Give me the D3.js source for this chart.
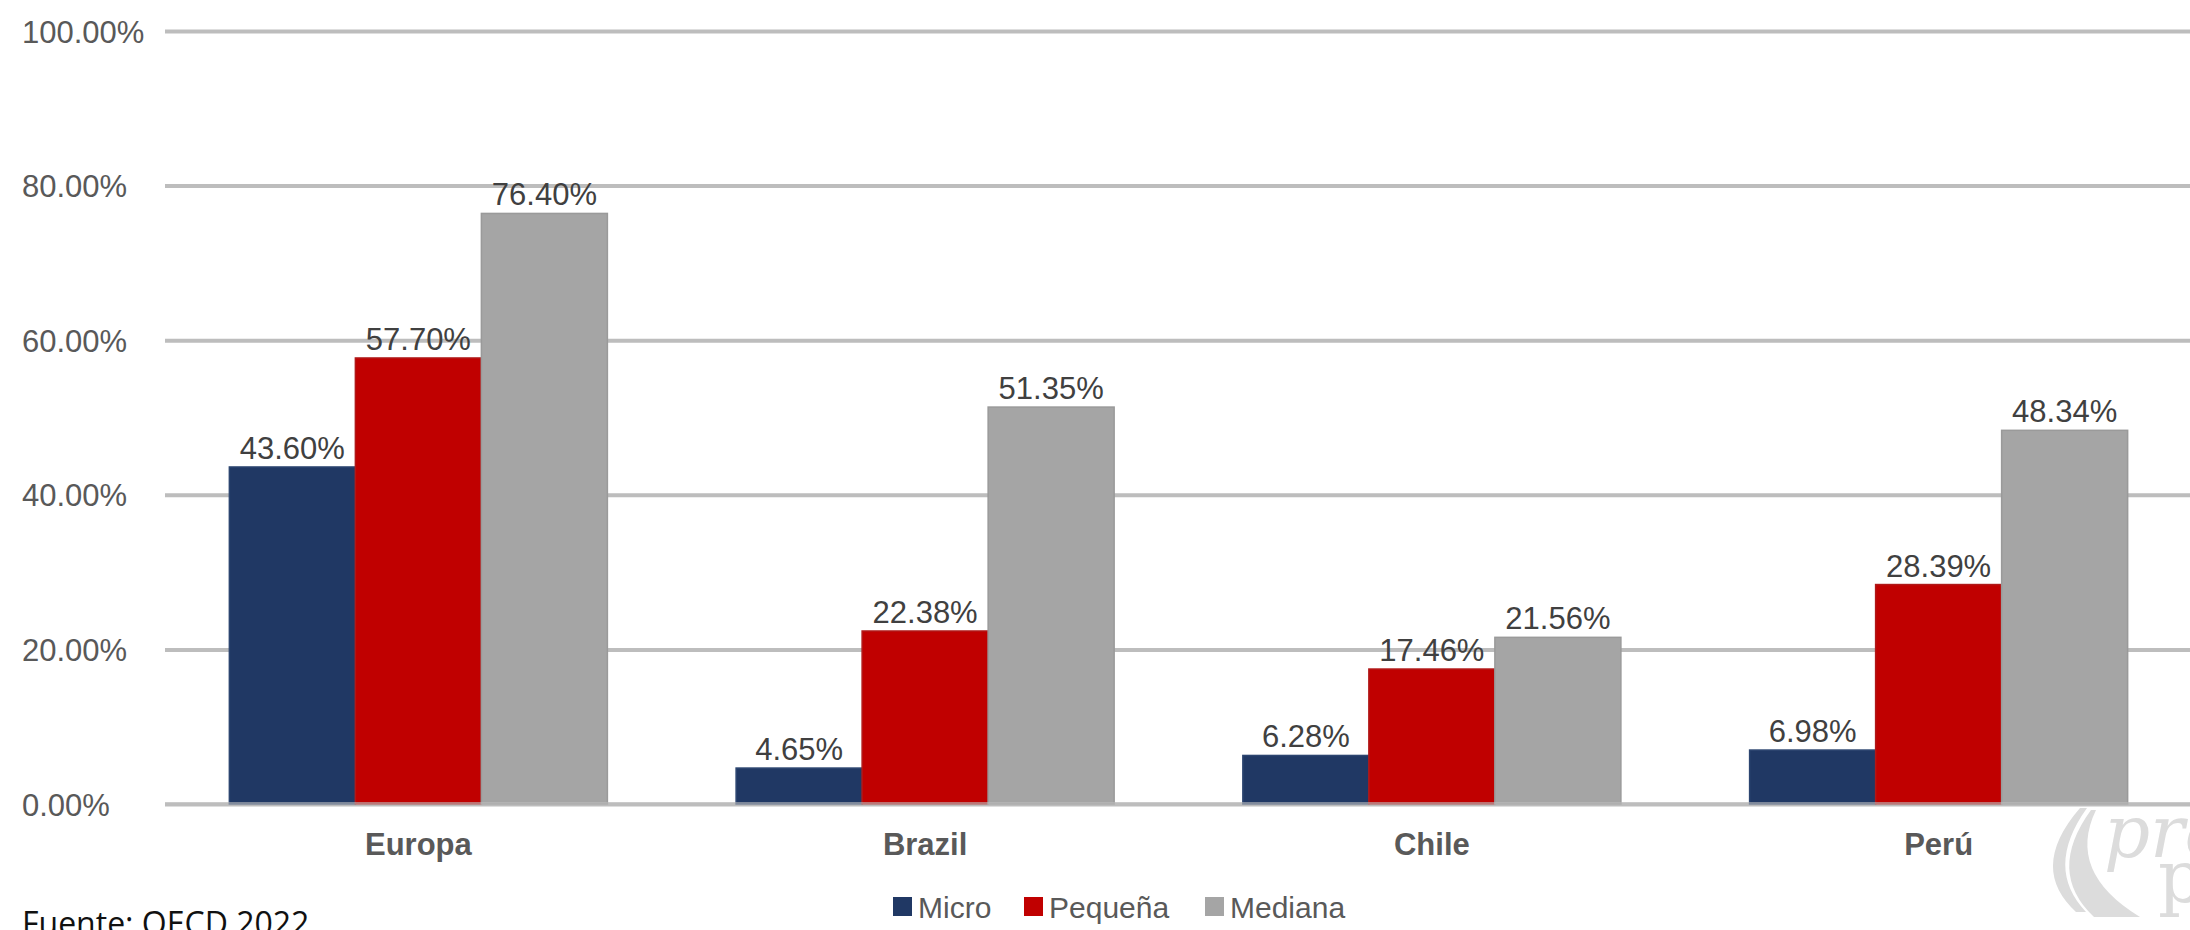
<!DOCTYPE html>
<html>
<head>
<meta charset="utf-8">
<script src="https://cdn.jsdelivr.net/npm/d3@7"></script>
<style>
  html, body { margin: 0; padding: 0; background: #ffffff; }
  svg { display: block; }
</style>
</head>
<body>
<svg id="chart" width="2190" height="930"></svg>
<script>
// ---- data ----
const categories = ["Europa", "Brazil", "Chile", "Perú"];
const seriesNames = ["Micro", "Pequeña", "Mediana"];
const microValues = [43.60, 4.65, 6.28, 6.98];
const pequenaValues = [57.70, 22.38, 17.46, 28.39];
const medianaValues = [76.40, 51.35, 21.56, 48.34];
const yTickValues = [0, 20, 40, 60, 80, 100];
const sourceText = "Fuente: OECD 2022";

// ---- styling ----
const colors = { "Micro": "#203864", "Pequeña": "#c00000", "Mediana": "#a5a5a5" };
const strokes = { "Micro": "#2c4570", "Pequeña": "#b01818", "Mediana": "#9a9a9a" };
const W = 2190, H = 930;
const plotLeft = 165, plotRight = 2192, yTop = 31, yBottom = 804;
const labelFont = "'Liberation Sans', Arial, sans-serif";

const seriesValues = { "Micro": microValues, "Pequeña": pequenaValues, "Mediana": medianaValues };
const rows = categories.map((c, i) => ({
  category: c,
  values: seriesNames.map(s => ({ series: s, value: seriesValues[s][i] }))
}));

const svg = d3.select("#chart");

const y = d3.scaleLinear().domain([0, 100]).range([yBottom, yTop]);
const x0 = d3.scaleBand().domain(categories).range([plotLeft, plotRight])
  .paddingInner(0.254).paddingOuter(0.127);
const x1 = d3.scaleBand().domain(seriesNames).range([0, x0.bandwidth()]).padding(0);

// gridlines (behind bars)
const yAxis = d3.axisLeft(y).tickValues(yTickValues)
  .tickSize(-(2190 - plotLeft)).tickFormat(d => d.toFixed(2) + "%");
const gAxis = svg.append("g").attr("transform", `translate(${plotLeft},0)`).call(yAxis);
gAxis.select(".domain").remove();
gAxis.selectAll(".tick line").attr("stroke", "#bdbdbd").attr("stroke-width", 4);
gAxis.selectAll(".tick text")
  .attr("x", 22 - plotLeft).attr("text-anchor", "start").attr("dy", "0.36em")
  .attr("fill", "#595959").style("font-family", labelFont).style("font-size", "31px");

// bars
const groups = svg.append("g").selectAll("g").data(rows).join("g")
  .attr("transform", d => `translate(${x0(d.category)},0)`);

groups.selectAll("rect").data(d => d.values).join("rect")
  .attr("x", d => x1(d.series))
  .attr("y", d => y(d.value))
  .attr("width", x1.bandwidth())
  .attr("height", d => y(0) - y(d.value))
  .attr("fill", d => colors[d.series])
  .attr("stroke", d => strokes[d.series])
  .attr("stroke-width", 1.5);

// value labels
groups.selectAll("text.val").data(d => d.values).join("text")
  .attr("class", "val")
  .attr("x", d => x1(d.series) + x1.bandwidth() / 2)
  .attr("y", d => y(d.value) - 8)
  .attr("text-anchor", "middle")
  .attr("fill", "#404040")
  .style("font-family", labelFont).style("font-size", "31px")
  .text(d => d.value.toFixed(2) + "%");

// zero line on top (semi-transparent)
svg.append("line")
  .attr("x1", plotLeft).attr("x2", 2190)
  .attr("y1", y(0)).attr("y2", y(0))
  .attr("stroke", "#bdbdbd").attr("stroke-width", 4).attr("stroke-opacity", 0.6);

// category labels
const xAxis = d3.axisBottom(x0).tickSize(0).tickPadding(0);
const gX = svg.append("g").attr("transform", `translate(0,${yBottom})`).call(xAxis);
gX.select(".domain").remove();
gX.selectAll(".tick text")
  .attr("y", 51).attr("dy", 0)
  .attr("fill", "#595959")
  .style("font-family", labelFont).style("font-size", "31px").style("font-weight", "bold");

// legend
const legendItems = [
  { name: "Micro", x: 893 },
  { name: "Pequeña", x: 1024 },
  { name: "Mediana", x: 1205 }
];
const lg = svg.append("g").selectAll("g").data(legendItems).join("g")
  .attr("transform", d => `translate(${d.x},0)`);
lg.append("rect").attr("x", 0).attr("y", 897).attr("width", 19).attr("height", 19)
  .attr("fill", d => colors[d.name]);
lg.append("text").attr("x", 25).attr("y", 918)
  .attr("fill", "#595959")
  .style("font-family", labelFont).style("font-size", "30px")
  .text(d => d.name);

// source note
svg.append("text").attr("x", 22).attr("y", 935)
  .attr("fill", "#111")
  .style("font-family", "'Open Sans', sans-serif").style("font-size", "32px")
  .text(sourceText);

// faint watermark logo
const wm = svg.append("g").attr("fill", "#dcdcdc");
wm.append("path").attr("d", "M2080,808 Q2028,868 2076,912 L2086,912 Q2044,868 2087,808 Z");
wm.append("path").attr("d", "M2091,810 Q2046,872 2094,917 L2140,917 Q2066,872 2096,810 Z");
wm.append("text").attr("x", 2104).attr("y", 857)
  .style("font-family", "'DejaVu Serif', serif").style("font-style", "italic")
  .style("font-size", "72px").text("pro");
wm.append("text").attr("x", 2158).attr("y", 902)
  .style("font-family", "'DejaVu Serif', serif")
  .style("font-size", "72px").text("p");
</script>
</body>
</html>
